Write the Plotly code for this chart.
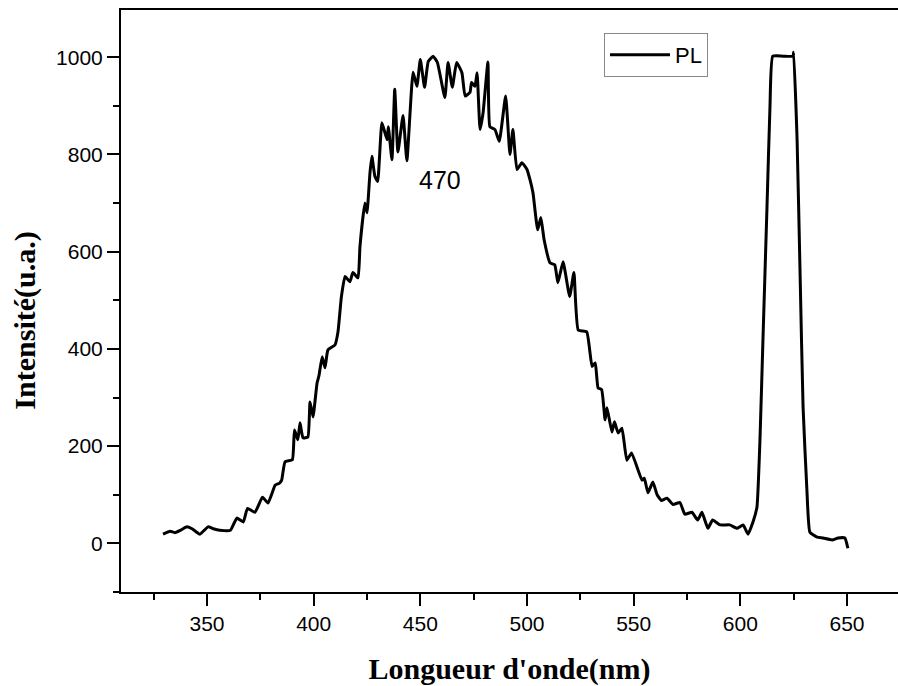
import plotly.graph_objects as go

wavelength = [329.4, 332.7, 335.0, 338.0, 340.6, 343.0, 346.7, 350.5, 353.0, 356.0,
              361.0, 364.0, 367.0, 369.0, 372.5, 376.0, 378.6, 382.0, 384.0, 385.0,
              386.6, 390.0, 391.0, 392.6, 393.6, 395.0, 397.3, 398.3, 399.7, 401.6,
              402.5, 404.0, 405.3, 406.7, 410.0, 411.4, 413.0, 414.7, 417.0, 418.4,
              420.8, 421.7, 424.0, 425.0, 426.4, 427.3, 428.7, 430.0, 432.0, 434.4,
              435.0, 436.7, 438.0, 439.5, 441.9, 443.7, 446.6, 448.4, 450.0, 452.0,
              453.7, 456.0, 458.0, 461.5, 463.0, 465.0, 467.0, 469.5, 471.0, 473.3,
              474.0, 475.6, 476.6, 478.0, 479.4, 481.7, 482.6, 485.0, 487.0, 490.0,
              492.0, 493.4, 495.3, 497.6, 500.0, 501.4, 502.8, 505.0, 506.5, 508.0,
              510.8, 513.0, 514.5, 516.9, 520.0, 522.0, 524.0, 528.0, 530.5, 532.0,
              533.3, 535.0, 536.6, 537.5, 539.8, 541.0, 542.7, 544.5, 546.8, 549.0,
              553.9, 555.0, 556.7, 559.0, 561.0, 563.0, 565.6, 568.4, 571.7, 574.0,
              577.3, 580.0, 582.0, 584.8, 587.0, 590.5, 595.0, 598.4, 601.3, 603.6,
              606.0, 607.8, 609.2, 610.6, 612.5, 613.9, 615.2, 620.0, 624.7, 625.0,
              626.6, 628.0, 629.4, 631.2, 632.6, 636.0, 638.8, 643.0, 645.8, 649.0,
              650.4]
intensity = [19, 25, 22, 28, 34, 30, 19, 34, 30, 27,
             27, 52, 44, 72, 64, 95, 83, 120, 124, 130,
             168, 172, 233, 213, 248, 217, 219, 291, 260, 330,
             345, 384, 361, 398, 408, 435, 507, 549, 538, 557,
             546, 610, 700, 680, 762, 796, 755, 744, 865, 830,
             857, 789, 934, 805, 880, 787, 969, 940, 995, 938,
             991, 1002, 989, 917, 989, 938, 989, 968, 920, 928,
             948, 940, 968, 851, 885, 990, 857, 851, 827, 920,
             800, 851, 769, 783, 769, 748, 721, 645, 670, 625,
             577, 573, 536, 579, 508, 557, 439, 435, 364, 371,
             320, 316, 254, 279, 229, 250, 227, 237, 171, 186,
             130, 134, 104, 126, 100, 88, 93, 80, 84, 60,
             64, 48, 64, 31, 48, 38, 38, 31, 38, 19,
             45, 75, 213, 419, 693, 899, 1002, 1002, 1002, 1010,
             830, 556, 281, 110, 23, 13, 11, 7, 11, 11,
             -10]

series_name = "PL"
peak_label = "470"
x_title = "Longueur d'onde(nm)"
y_title = "Intensité(u.a.)"

fig = go.Figure()
fig.add_trace(go.Scatter(x=wavelength, y=intensity, mode="lines", name=series_name,
                         line=dict(color="black", width=3, shape="spline", smoothing=0.4)))

fig.add_annotation(x=459.2, y=748, text=peak_label, showarrow=False,
                   font=dict(family="Liberation Sans, Arial", size=25, color="black"))

tick_font = dict(family="Liberation Sans, Arial", size=21, color="black")
title_font = dict(family="Liberation Serif, Times New Roman", size=30, color="black")

fig.add_annotation(xref="paper", yref="paper", x=-0.123, y=0.467,
                   xanchor="center", yanchor="middle", textangle=-90,
                   text="<b>" + y_title + "</b>", showarrow=False, font=title_font)

fig.update_layout(
    width=898, height=686,
    margin=dict(l=121, r=0, t=10, b=94),
    paper_bgcolor="white", plot_bgcolor="white",
    showlegend=True,
    legend=dict(x=0.6216, y=0.9605, xanchor="left", yanchor="top",
                bordercolor="#888888", borderwidth=1, bgcolor="white",
                font=dict(family="Liberation Sans, Arial", size=22, color="black"),
                itemwidth=60),
)
fig.update_xaxes(
    range=[309.7, 673.9], showgrid=False, zeroline=False,
    showline=True, linecolor="black", linewidth=2, mirror=True,
    ticks="outside", ticklen=12, tickwidth=2, tickcolor="black",
    tick0=350, dtick=50, tickfont=tick_font,
    minor=dict(ticks="outside", ticklen=6, tickwidth=2, tickcolor="black", dtick=25, tick0=325),
    title=dict(text="<b>" + x_title + "</b>", font=title_font, standoff=25),
)
fig.update_yaxes(
    range=[-100, 1097], showgrid=False, zeroline=False,
    showline=True, linecolor="black", linewidth=2, mirror=False,
    ticks="outside", ticklen=12, tickwidth=2, tickcolor="black",
    tick0=0, dtick=200, tickfont=tick_font,
    minor=dict(ticks="outside", ticklen=6, tickwidth=2, tickcolor="black", dtick=100, tick0=0),
)

fig.write_html("out.html")
